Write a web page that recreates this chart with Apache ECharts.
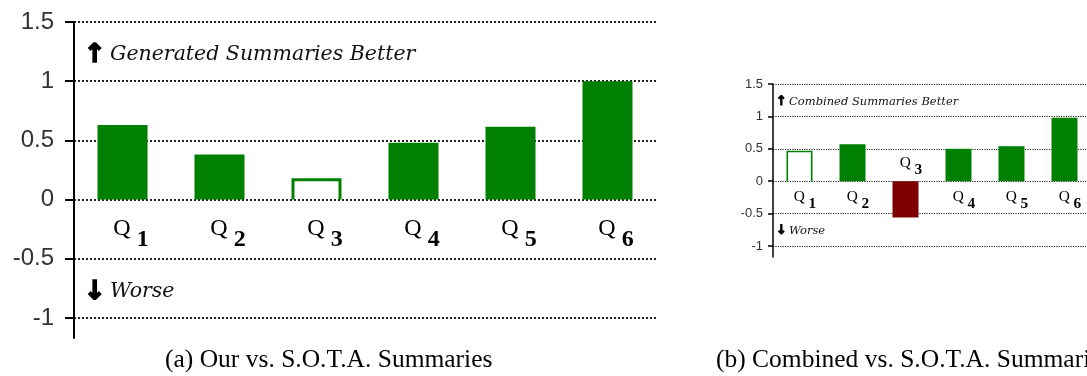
<!DOCTYPE html>
<html><head><meta charset="utf-8">
<script src="https://cdn.jsdelivr.net/npm/echarts@6/dist/echarts.min.js"></script>
<style>html,body{margin:0;padding:0;background:#fff}#c{width:1087px;height:376px}</style>
</head><body><div id="c"></div>
<script>
// ---- data ----
const categories = ['Q1', 'Q2', 'Q3', 'Q4', 'Q5', 'Q6'];
const ourVsSota = [0.63, 0.38, 0.18, 0.48, 0.615, 1.0];
const combinedVsSota = [0.47, 0.57, -0.56, 0.5, 0.54, 0.98];
const hollowA = ['Q3'];
const hollowB = ['Q1'];
const yTicks = [-1, -0.5, 0, 0.5, 1, 1.5];
const yMin = -1.17, yMax = 1.5;
const captionA = '(a) Our vs. S.O.T.A. Summaries';
const captionB = '(b) Combined vs. S.O.T.A. Summaries';
const noteBetterA = 'Generated Summaries Better';
const noteBetterB = 'Combined Summaries Better';
const noteWorse = 'Worse';

// ---- styling ----
const GREEN = '#008000', RED = '#7f0000';
const SERIF = 'Liberation Serif';
const NOTE_FONT = 'DejaVu Serif';

function qRich(s) {
  return {
    q: { fontFamily: SERIF, fontSize: 24 * s, lineHeight: 24 * s, color: '#000', verticalAlign: 'top', padding: [0, 0, 0, 17 * s] },
    n: { fontFamily: SERIF, fontWeight: 'bold', fontSize: 24 * s, lineHeight: 46 * s, color: '#000', verticalAlign: 'middle', padding: [0, 0, 0, 6 * s] }
  };
}

function barData(vals, hollow, dPos, dNeg) {
  return vals.map((v, i) => {
    const cat = categories[i];
    const item = { value: v, name: cat };
    item.itemStyle = hollow.indexOf(cat) >= 0
      ? { color: 'rgba(0,0,0,0)', borderWidth: 0 }
      : { color: v < 0 ? RED : GREEN };
    item.label = v < 0 ? { position: 'top', distance: dNeg } : { position: 'bottom', distance: dPos };
    return item;
  });
}

function barSeries(idx, vals, hollow, barWidth, s, dPos, dNeg) {
  return {
    type: 'bar', xAxisIndex: idx, yAxisIndex: idx, barWidth: barWidth,
    data: barData(vals, hollow, dPos, dNeg),
    label: { show: true, formatter: p => '{q|Q}{n|' + p.name.slice(1) + '}', rich: qRich(s) }
  };
}

// open (outlined) bars: three sides drawn through the axis scales
function hollowSeries(idx, vals, hollow, barWidth, lw) {
  const data = [];
  vals.forEach((v, i) => { if (hollow.indexOf(categories[i]) >= 0) data.push([i, v]); });
  return {
    type: 'custom', xAxisIndex: idx, yAxisIndex: idx, z: 3, data: data,
    renderItem: (params, api) => {
      const top = api.coord([api.value(0), api.value(1)]);
      const base = api.coord([api.value(0), 0]);
      const h = barWidth / 2 - lw / 2;
      return {
        type: 'polyline',
        shape: { points: [[top[0] - h, base[1]], [top[0] - h, top[1] + lw / 2], [top[0] + h, top[1] + lw / 2], [top[0] + h, base[1]]] },
        style: { stroke: GREEN, lineWidth: lw, fill: null, lineJoin: 'miter' }
      };
    }
  };
}

function yAxis(gi, fs, margin, tickLen, lw, glw) {
  return {
    type: 'value', gridIndex: gi, min: yMin, max: yMax,
    axisLine: { show: true, lineStyle: { color: '#000', width: lw } },
    axisTick: { show: true, customValues: yTicks, length: tickLen, lineStyle: { color: '#000', width: lw } },
    axisLabel: { customValues: yTicks, margin: margin, fontSize: fs, fontFamily: 'Liberation Sans', color: '#333' },
    splitLine: { show: true, lineStyle: { type: [glw, glw], color: '#222', width: glw } }
  };
}

function xAxis(gi) {
  return {
    type: 'category', gridIndex: gi, data: categories,
    axisLine: { show: false }, axisTick: { show: false }, axisLabel: { show: false }
  };
}

function note(x, y, arrow, text, fs, afs) {
  return [
    { type: 'text', x: x, y: y, style: { text: arrow, font: 'bold ' + afs + 'px "DejaVu Sans"', fill: '#000', stroke: '#000', lineWidth: afs / 16, verticalAlign: 'middle', align: 'left' } },
    { type: 'text', x: x + afs * 1.0, y: y, style: { text: text, font: 'italic ' + fs + 'px "' + NOTE_FONT + '"', fill: '#111', verticalAlign: 'middle', align: 'left' } }
  ];
}

const chart = echarts.init(document.getElementById('c'), null, { renderer: 'canvas' });
chart.setOption({
  animation: false,
  backgroundColor: '#fff',
  grid: [
    { left: 74, top: 22, width: 582, height: 316, outerBoundsMode: 'none', containLabel: false },
    { left: 773, top: 84, width: 318, height: 173, outerBoundsMode: 'none', containLabel: false }
  ],
  xAxis: [xAxis(0), xAxis(1)],
  yAxis: [yAxis(0, 24, 20, 9, 2, 2), yAxis(1, 13, 10, 5, 1.5, 1.2)],
  series: [
    barSeries(0, ourVsSota, hollowA, 50, 1, 17, 0),
    hollowSeries(0, ourVsSota, hollowA, 50, 3),
    barSeries(1, combinedVsSota, hollowB, 26, 0.64, 8, -4),
    hollowSeries(1, combinedVsSota, hollowB, 26, 1.6)
  ],
  title: [
    { text: captionA, left: 165, top: 347, padding: 0, textStyle: { fontFamily: SERIF, fontSize: 25.5, fontWeight: 'normal', color: '#000' } },
    { text: captionB, left: 716, top: 347, padding: 0, textStyle: { fontFamily: SERIF, fontSize: 25.5, fontWeight: 'normal', color: '#000' } }
  ],
  graphic: [].concat(
    note(84, 55, '↑', noteBetterA, 20.5, 26),
    note(84, 292, '↓', noteWorse, 20.5, 26),
    note(776, 102, '↑', noteBetterB, 11.5, 13),
    note(776, 231, '↓', noteWorse, 11.5, 13)
  )
});
</script>
</body></html>
